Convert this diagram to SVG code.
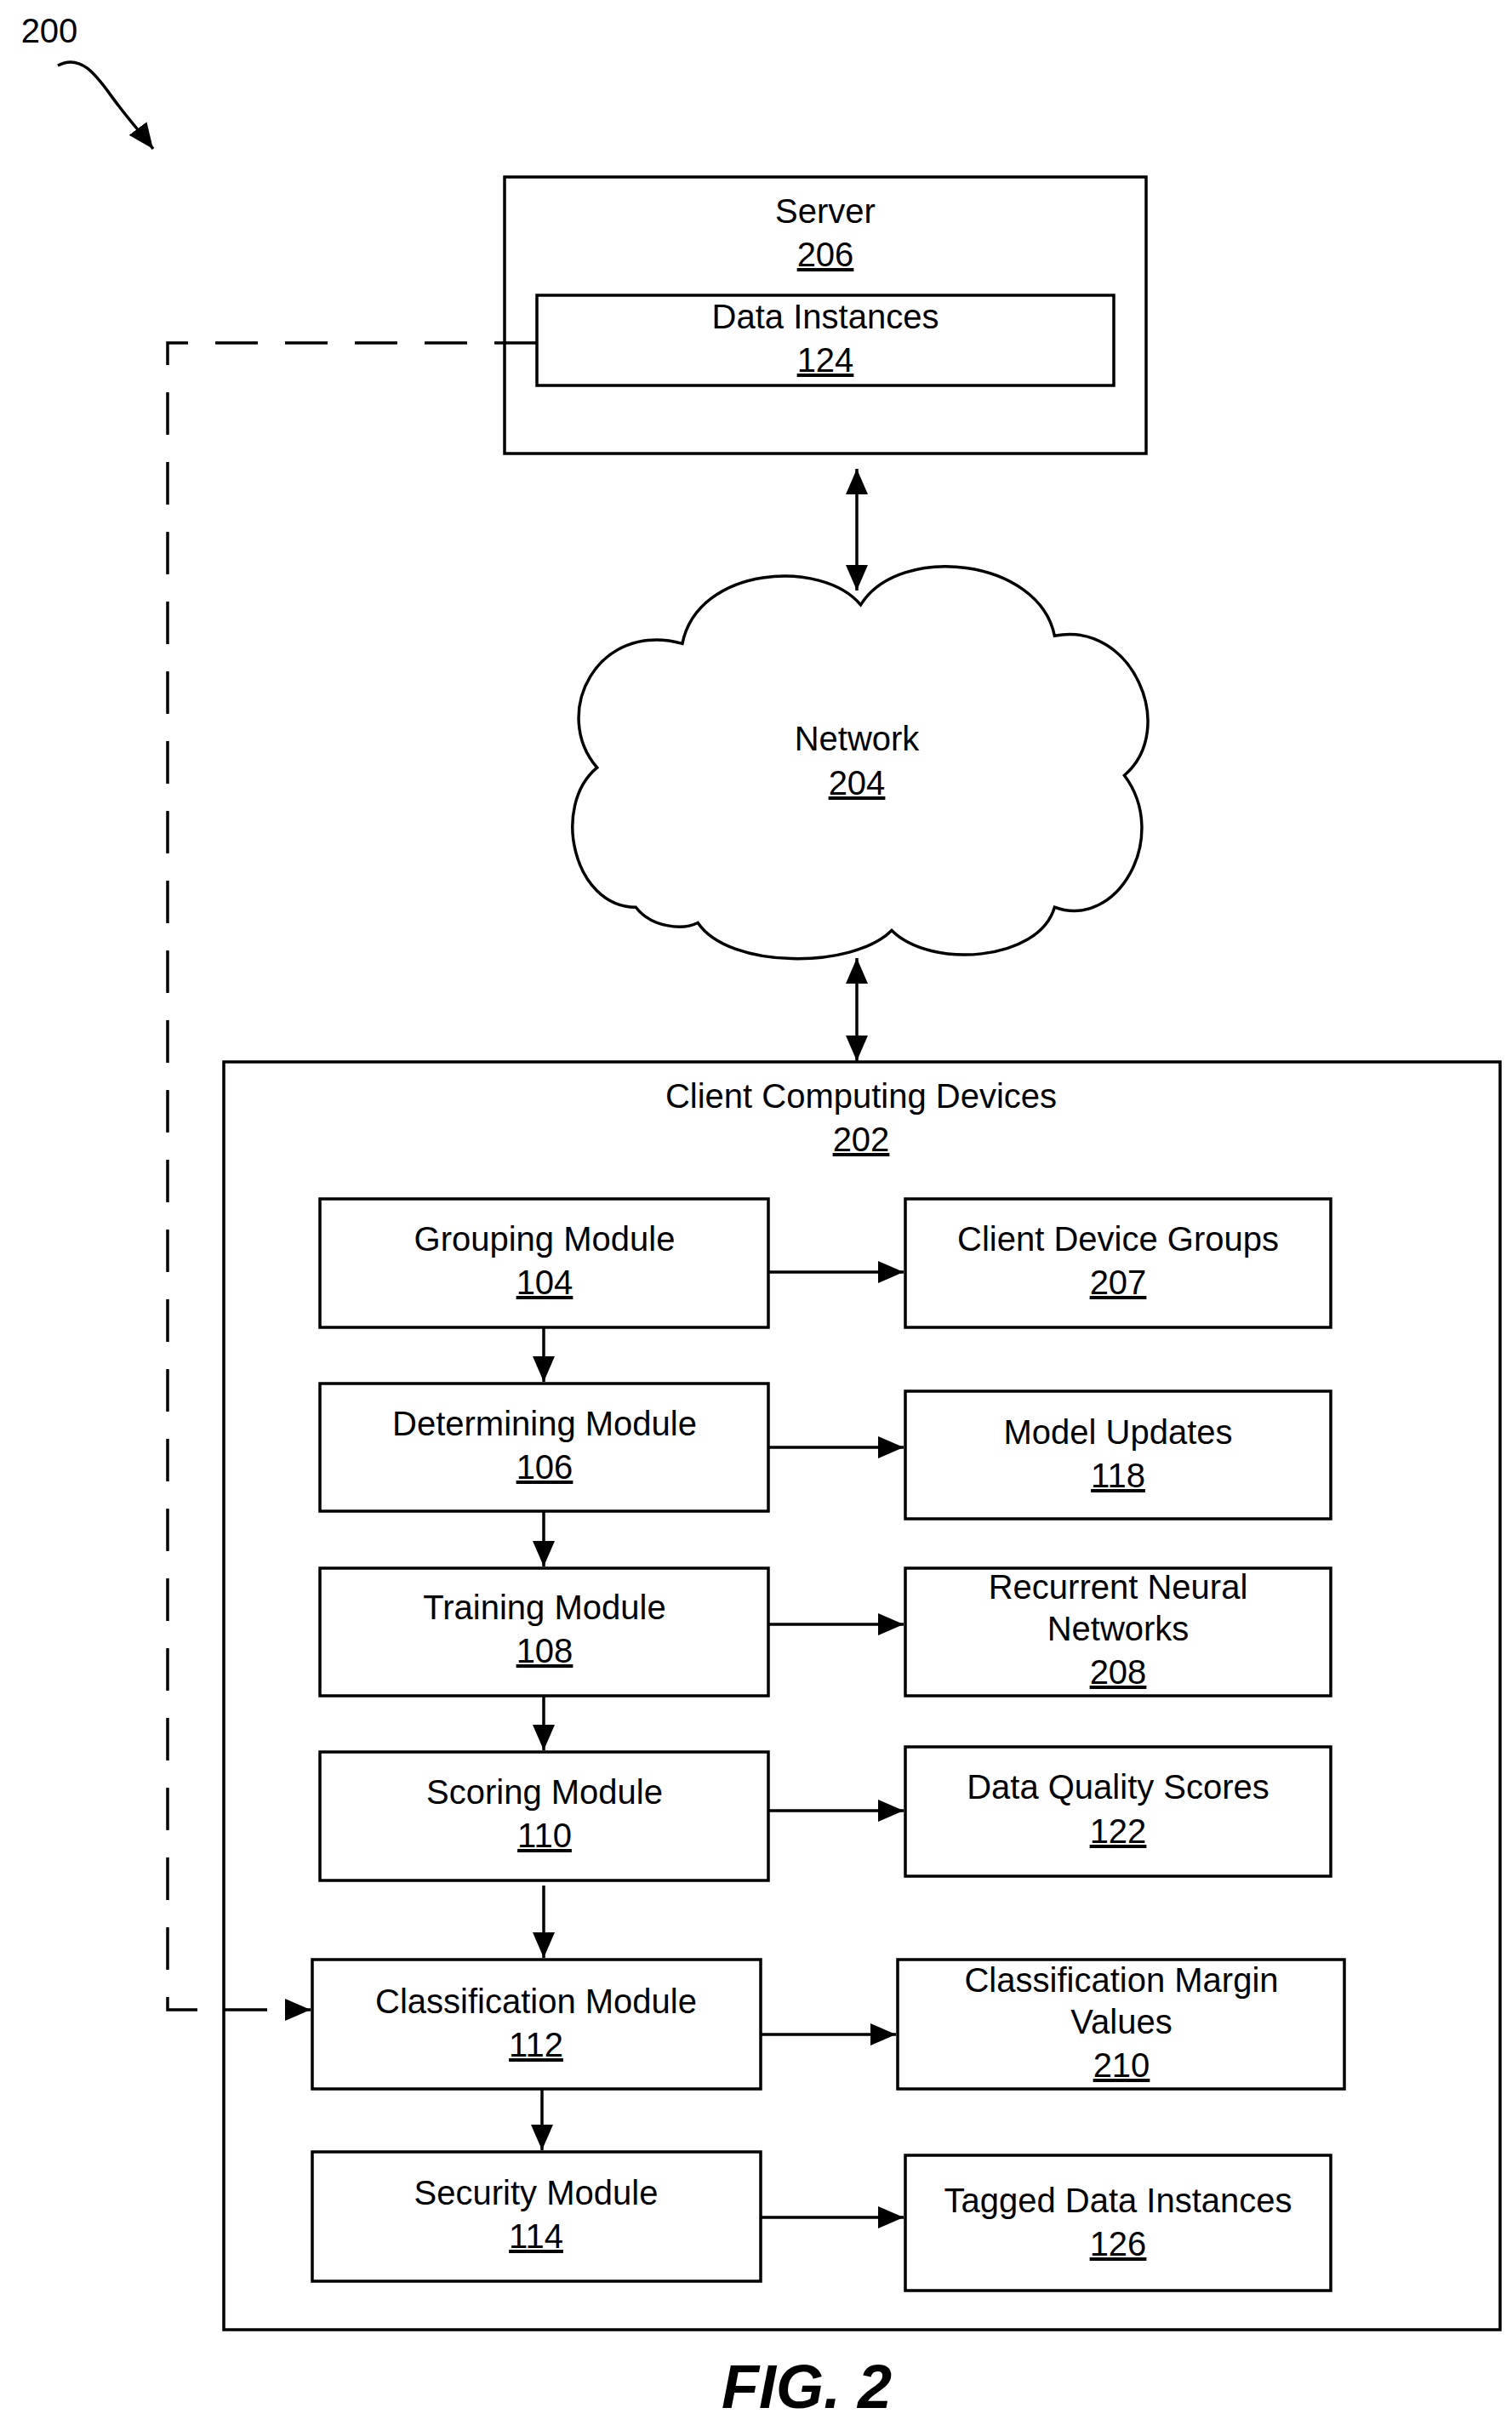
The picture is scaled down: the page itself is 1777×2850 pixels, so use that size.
<svg xmlns="http://www.w3.org/2000/svg" width="1777" height="2850" viewBox="0 0 1777 2850">
<style>
.b{fill:none;stroke:#000;stroke-width:3.5}
.c{stroke:#000;stroke-width:3.5;fill:none}
text{font-family:"Liberation Sans",Arial,sans-serif;font-size:40px;text-anchor:middle;fill:#000}
.u{text-decoration:underline}
</style>
<defs>
<marker id="a" markerWidth="30" markerHeight="26" refX="10" refY="5" orient="auto-start-reverse" markerUnits="userSpaceOnUse" viewBox="0 0 10 10" preserveAspectRatio="none">
<path d="M0,0 L10,5 L0,10 Z" fill="#000"/>
</marker>
</defs>
<rect width="1777" height="2850" fill="#fff"/>
<g id="label200">
<text x="58" y="50">200</text>
<path d="M68,77 C100,60 120,100 140,125 C155,145 165,155 180,175" class="c" marker-end="url(#a)"/>
</g>
<g id="server">
<rect x="593" y="208" width="754" height="325" class="b"/>
<text x="970" y="262">Server</text>
<text x="970" y="313" class="u">206</text>
</g>
<g id="data124">
<rect x="631" y="347" width="678" height="106" class="b"/>
<text x="970" y="386">Data Instances</text>
<text x="970" y="437" class="u">124</text>
</g>
<g id="network">
<path transform="scale(1.8226)" d="M 410 585 C 370 585 355 520 385 495 C 355 460 385 400 440 415 C 450 365 530 360 555 390 C 580 350 670 360 680 410 C 730 400 760 470 725 500 C 755 540 720 600 680 585 C 670 620 600 625 575 600 C 550 625 470 625 450 595 C 440 600 420 598 410 585 Z" fill="none" stroke="#000" stroke-width="1.9"/>
<text x="1007" y="882">Network</text>
<text x="1007" y="934" class="u">204</text>
</g>
<g id="client">
<rect x="263" y="1248" width="1500" height="1490" class="b"/>
<text x="1012" y="1302">Client Computing Devices</text>
<text x="1012" y="1353" class="u">202</text>
</g>
<g id="n104"><rect x="376" y="1409" width="527" height="151" class="b"/><text x="640" y="1470">Grouping Module</text><text x="640" y="1521" class="u">104</text></g>
<g id="n106"><rect x="376" y="1626" width="527" height="150" class="b"/><text x="640" y="1687">Determining Module</text><text x="640" y="1738" class="u">106</text></g>
<g id="n108"><rect x="376" y="1843" width="527" height="150" class="b"/><text x="640" y="1903">Training Module</text><text x="640" y="1954" class="u">108</text></g>
<g id="n110"><rect x="376" y="2059" width="527" height="151" class="b"/><text x="640" y="2120">Scoring Module</text><text x="640" y="2171" class="u">110</text></g>
<g id="n112"><rect x="367" y="2303" width="527" height="152" class="b"/><text x="630" y="2366">Classification Module</text><text x="630" y="2417" class="u">112</text></g>
<g id="n114"><rect x="367" y="2529" width="527" height="152" class="b"/><text x="630" y="2591">Security Module</text><text x="630" y="2642" class="u">114</text></g>
<g id="n207"><rect x="1064" y="1409" width="500" height="151" class="b"/><text x="1314" y="1470">Client Device Groups</text><text x="1314" y="1521" class="u">207</text></g>
<g id="n118"><rect x="1064" y="1635" width="500" height="150" class="b"/><text x="1314" y="1697">Model Updates</text><text x="1314" y="1748" class="u">118</text></g>
<g id="n208"><rect x="1064" y="1843" width="500" height="150" class="b"/><text x="1314" y="1879">Recurrent Neural</text><text x="1314" y="1928">Networks</text><text x="1314" y="1979" class="u">208</text></g>
<g id="n122"><rect x="1064" y="2053" width="500" height="152" class="b"/><text x="1314" y="2114">Data Quality Scores</text><text x="1314" y="2166" class="u">122</text></g>
<g id="n210"><rect x="1055" y="2303" width="525" height="152" class="b"/><text x="1318" y="2341">Classification Margin</text><text x="1318" y="2390">Values</text><text x="1318" y="2441" class="u">210</text></g>
<g id="n126"><rect x="1064" y="2533" width="500" height="159" class="b"/><text x="1314" y="2600">Tagged Data Instances</text><text x="1314" y="2651" class="u">126</text></g>
<g id="connectors">
<line x1="1007" y1="551" x2="1007" y2="694" class="c" marker-start="url(#a)" marker-end="url(#a)"/>
<line x1="1007" y1="1126" x2="1007" y2="1247" class="c" marker-start="url(#a)" marker-end="url(#a)"/>
<line x1="903" y1="1495" x2="1062" y2="1495" class="c" marker-end="url(#a)"/>
<line x1="903" y1="1701" x2="1062" y2="1701" class="c" marker-end="url(#a)"/>
<line x1="903" y1="1909" x2="1062" y2="1909" class="c" marker-end="url(#a)"/>
<line x1="903" y1="2128" x2="1062" y2="2128" class="c" marker-end="url(#a)"/>
<line x1="894" y1="2391" x2="1053" y2="2391" class="c" marker-end="url(#a)"/>
<line x1="894" y1="2606" x2="1062" y2="2606" class="c" marker-end="url(#a)"/>
<line x1="639" y1="1560" x2="639" y2="1624" class="c" marker-end="url(#a)"/>
<line x1="639" y1="1776" x2="639" y2="1841" class="c" marker-end="url(#a)"/>
<line x1="639" y1="1993" x2="639" y2="2057" class="c" marker-end="url(#a)"/>
<line x1="639" y1="2216" x2="639" y2="2301" class="c" marker-end="url(#a)"/>
<line x1="637" y1="2455" x2="637" y2="2527" class="c" marker-end="url(#a)"/>
<path d="M631,403 H197 V2362 H365" class="c" stroke-dasharray="50,32" marker-end="url(#a)"/>
</g>
<text x="948" y="2830" style="font-size:72px;font-style:italic;font-weight:bold">FIG. 2</text>
</svg>
